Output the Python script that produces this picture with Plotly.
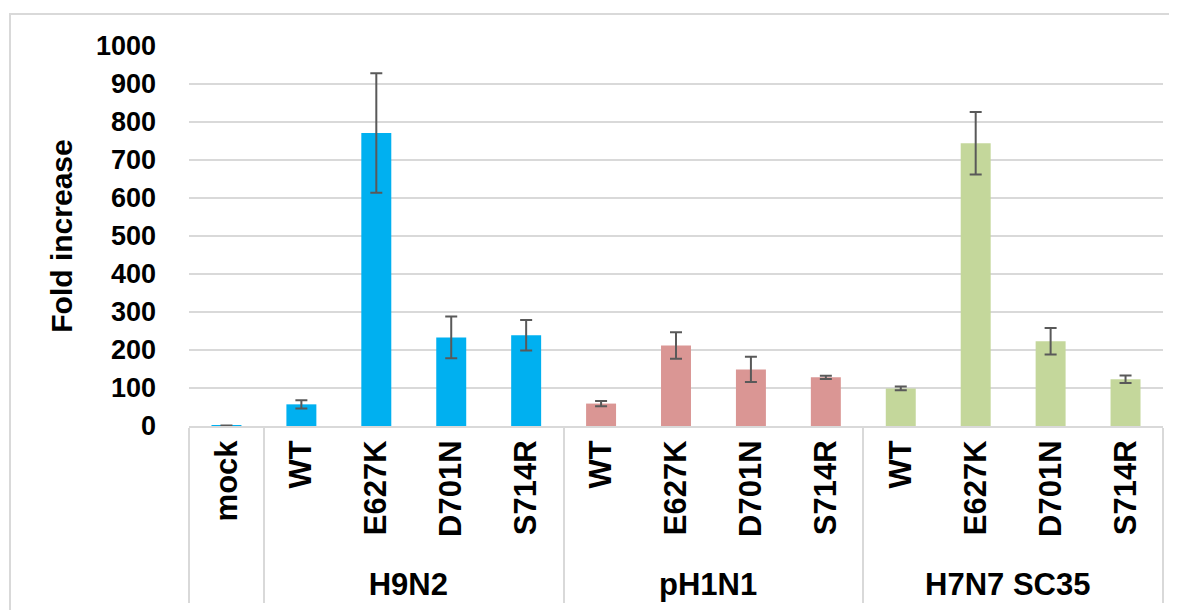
import plotly.graph_objects as go

# ---- data ----
mock_label = ["mock"]
mock_value = [1]
mock_error = [1]

mutants = ["WT", "E627K", "D701N", "S714R"]

h9n2_values = [57, 771, 233, 239]
h9n2_errors = [11, 157, 55, 40]

ph1n1_values = [59, 212, 149, 128]
ph1n1_errors = [7, 35, 33, 4]

h7n7_values = [99, 744, 223, 123]
h7n7_errors = [5, 82, 35, 10]

group_names = ["H9N2", "pH1N1", "H7N7 SC35"]
y_ticks = [0, 100, 200, 300, 400, 500, 600, 700, 800, 900, 1000]

colors = {"H9N2": "#00B0F0", "pH1N1": "#DA9694", "H7N7 SC35": "#C4D79B"}
err_color = "#595959"
grid_color = "#D9D9D9"
FONT = "Arial, Liberation Sans, sans-serif"

fig = go.Figure()

# mock (no group)
fig.add_trace(go.Bar(
    x=[[" "], mock_label], y=mock_value,
    marker=dict(color=colors["H9N2"], line=dict(width=0)),
    error_y=dict(type="data", array=mock_error, color=err_color, thickness=1.5, width=6),
    showlegend=False,
))

series = [h9n2_values, ph1n1_values, h7n7_values]
errs = [h9n2_errors, ph1n1_errors, h7n7_errors]
for g, vals, er in zip(group_names, series, errs):
    fig.add_trace(go.Bar(
        x=[[g] * len(mutants), mutants], y=vals,
        marker=dict(color=colors[g], line=dict(width=0)),
        error_y=dict(type="data", array=er, color=err_color, thickness=2, width=6),
        showlegend=False,
    ))

# page body has an 8px margin, so the figure is drawn 8px right/down
fig.update_layout(
    width=1169, height=602,
    margin=dict(l=181, r=14, t=38, b=184),
    paper_bgcolor="white", plot_bgcolor="white",
    barmode="overlay", bargap=0.6,
    font=dict(family=FONT, color="black"),
    showlegend=False,
)

fig.update_xaxes(
    type="multicategory",
    automargin=False,
    tickangle=-90,
    tickfont=dict(family=FONT, size=31, weight="bold", color="black"),
    showline=True, linecolor=grid_color, linewidth=2,
    showdividers=True, dividercolor=grid_color, dividerwidth=2,
    ticks="outside", ticklen=4, tickcolor="rgba(0,0,0,0)",
    showgrid=False,
)

fig.update_yaxes(
    automargin=False,
    range=[0, 1000],
    tickvals=y_ticks,
    ticktext=[str(v) for v in y_ticks],
    tickfont=dict(family=FONT, size=27, weight="bold", color="black"),
    showgrid=True, gridcolor=grid_color, gridwidth=2,
    zeroline=False, showline=False,
    ticklabelstandoff=32,
    title=dict(text="Fold increase", font=dict(family=FONT, size=30, weight="bold", color="black"), standoff=14),
)

# outer chart border
fig.add_shape(type="rect", xref="paper", yref="paper",
              x0=(2 - 181) / 974, x1=1.05, y0=-0.6, y1=1 + (38 - 6) / 380,
              line=dict(color=grid_color, width=2), fillcolor="rgba(0,0,0,0)", layer="below")

fig.write_html("out.html")
